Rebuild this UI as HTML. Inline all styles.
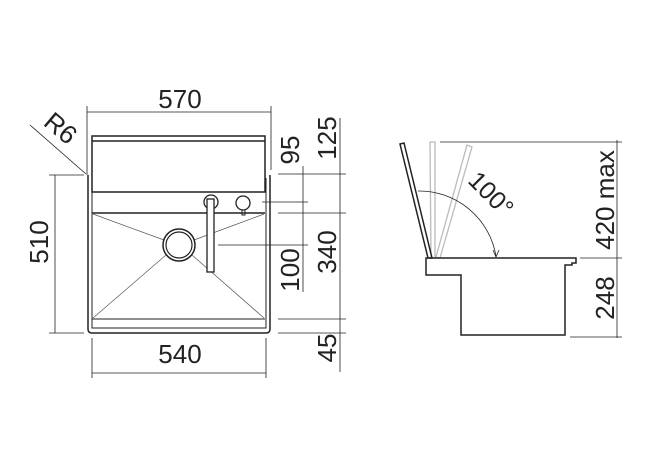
<!DOCTYPE html>
<html><head><style>body{margin:0;background:#fff}svg{display:block}</style></head>
<body>
<svg width="650" height="465" viewBox="0 0 650 465" xmlns="http://www.w3.org/2000/svg" font-family="Liberation Sans, sans-serif" fill="none" stroke="#222">
<line x1="87" y1="112" x2="271" y2="112" stroke-width="0.8"/>
<line x1="87" y1="106" x2="87" y2="175" stroke-width="0.8"/>
<line x1="271" y1="106" x2="271" y2="170" stroke-width="0.8"/>
<text x="180" y="108" font-size="26" fill="#222" stroke="none" text-anchor="middle">570</text>
<line x1="30" y1="125" x2="86" y2="174" stroke-width="0.8"/>
<text x="0" y="0" font-size="26" fill="#222" stroke="none" text-anchor="middle" transform="translate(55,135) rotate(40)">R6</text>
<rect x="92" y="136" width="173" height="56" stroke-width="1.5"/>
<line x1="92" y1="141" x2="265" y2="141" stroke-width="1.5"/>
<path d="M88 175 V329 Q88 333 92 333 H266 Q270 333 270 329 V175" stroke-width="1.5"/>
<path d="M92 178 V328 H266 V178" stroke-width="1"/>
<line x1="92" y1="192" x2="265" y2="192" stroke-width="1"/>
<line x1="92" y1="213" x2="265" y2="213" stroke-width="1.5"/>
<line x1="92" y1="319" x2="265" y2="319" stroke-width="1"/>
<g stroke-width="0.7" stroke="#555">
<line x1="93" y1="214" x2="164" y2="240"/>
<line x1="264" y1="214" x2="194" y2="240"/>
<line x1="93" y1="318" x2="166" y2="255"/>
<line x1="264" y1="318" x2="192" y2="255"/>
</g>
<circle cx="179" cy="245" r="16" stroke-width="1.5"/>
<circle cx="179" cy="245" r="13" stroke-width="1.2"/>
<circle cx="211" cy="202" r="7" stroke-width="1.3"/>
<rect x="207" y="199" width="7" height="73" fill="#fff" stroke-width="1.3"/>
<circle cx="243" cy="203" r="7" stroke-width="1.3"/>
<rect x="242" y="210" width="3" height="5" stroke-width="1"/>
<line x1="55" y1="175" x2="55" y2="333" stroke-width="0.8"/>
<line x1="49" y1="175" x2="84" y2="175" stroke-width="0.8"/>
<line x1="49" y1="333" x2="84" y2="333" stroke-width="0.8"/>
<text font-size="26" fill="#222" stroke="none" text-anchor="middle" transform="translate(48,242) rotate(-90)">510</text>
<line x1="92" y1="373" x2="266" y2="373" stroke-width="0.8"/>
<line x1="92" y1="338" x2="92" y2="378" stroke-width="0.8"/>
<line x1="266" y1="338" x2="266" y2="378" stroke-width="0.8"/>
<text x="180" y="363" font-size="26" fill="#222" stroke="none" text-anchor="middle">540</text>
<g stroke-width="0.8">
<line x1="303" y1="166" x2="303" y2="292"/>
<line x1="340" y1="118" x2="340" y2="372"/>
<line x1="278" y1="174" x2="346" y2="174"/>
<line x1="262" y1="202" x2="308" y2="202"/>
<line x1="278" y1="213" x2="346" y2="213"/>
<line x1="218" y1="245" x2="308" y2="245"/>
<line x1="278" y1="319" x2="346" y2="319"/>
<line x1="278" y1="333" x2="346" y2="333"/>
</g>
<g font-size="26" fill="#222" stroke="none" text-anchor="middle">
<text transform="translate(299,150) rotate(-90)">95</text>
<text transform="translate(336,138) rotate(-90)">125</text>
<text transform="translate(299,270) rotate(-90)">100</text>
<text transform="translate(336,252) rotate(-90)">340</text>
<text transform="translate(336,348) rotate(-90)">45</text>
</g>
<line x1="440" y1="142" x2="622" y2="142" stroke-width="0.8"/>
<line x1="617" y1="140" x2="617" y2="338" stroke-width="0.8"/>
<line x1="580" y1="258" x2="622" y2="258" stroke-width="0.8"/>
<line x1="570" y1="337" x2="622" y2="337" stroke-width="0.8"/>
<g stroke="#bbb" stroke-width="1.3">
<path d="M430 142 H435 V258 H431 Z"/>
<path d="M467 145 L472 147 L440 258 L436 257 Z"/>
</g>
<path d="M400 144 L404 143 L432 258 L428 258 Z" stroke-width="1.5"/>
<path d="M418 191 A78 78 0 0 1 496 256" stroke-width="0.8"/>
<path d="M493 250 L496 257 L499 250" stroke-width="0.8"/>
<path d="M426 258 H576 V263 H572 V265 H565 V335 H461 V275 H426 Z" stroke-width="1.5"/>
<text font-size="25" fill="#222" stroke="none" text-anchor="middle" transform="translate(485,200) rotate(45)">100°</text>
<text font-size="26" fill="#222" stroke="none" text-anchor="middle" transform="translate(614,200) rotate(-90)">420 max</text>
<text font-size="26" fill="#222" stroke="none" text-anchor="middle" transform="translate(614,298) rotate(-90)">248</text>
</svg>
</body></html>
